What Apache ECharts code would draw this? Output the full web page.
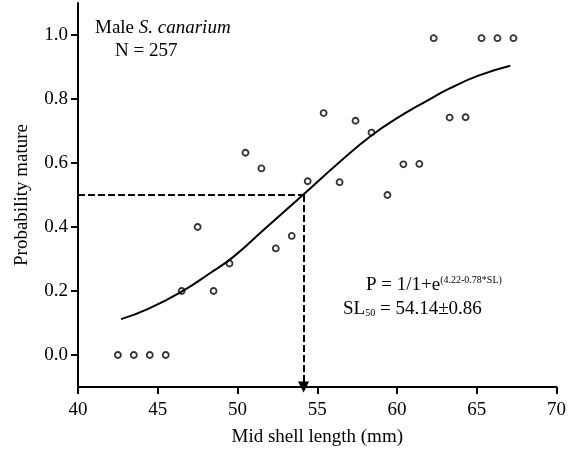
<!DOCTYPE html>
<html>
<head>
<meta charset="utf-8">
<title>Male S. canarium maturity</title>
<script src="https://cdn.jsdelivr.net/npm/echarts@6/dist/echarts.min.js"></script>
<style>
  html, body { margin: 0; padding: 0; background: #fff; }
  #chart { width: 569px; height: 453px; }
</style>
</head>
<body>
<div id="chart"></div>
<script>
// observed proportion mature per size class
const shellLength = [42.5, 43.5, 44.5, 45.5, 46.5, 47.5, 48.5, 49.5, 50.5, 51.5, 52.4, 53.4, 54.4,
  55.4, 56.4, 57.4, 58.4, 59.4, 60.4, 61.4, 62.3, 63.3, 64.3, 65.3, 66.3, 67.3]
const probMature = [0, 0, 0, 0, 0.2, 0.4, 0.2, 0.286, 0.632, 0.583, 0.333, 0.372, 0.543,
  0.756, 0.54, 0.732, 0.695, 0.5, 0.596, 0.597, 0.99, 0.742, 0.743, 0.99, 0.99, 0.99]

// fitted logistic curve
const fitLength = [42.7, 44.4, 46.6, 48.2, 49.7, 51.7, 54.1, 56.6, 58.4, 59.9, 61.9, 63.3, 65.1, 67.1]
const fitProb = [0.112, 0.144, 0.201, 0.253, 0.305, 0.394, 0.5, 0.612, 0.686, 0.737, 0.795, 0.833, 0.873, 0.904]

const sl50 = 54.14
const yTicks = [0, 0.2, 0.4, 0.6, 0.8, 1.0]

const font = 'Liberation Serif'

const chart = echarts.init(document.getElementById('chart'))

chart.setOption({
  backgroundColor: '#fff',
  animation: false,
  grid: {
    left: 78,
    right: 11,
    top: 3,
    bottom: 66
  },
  xAxis: {
    type: 'value',
    min: 40,
    max: 70,
    interval: 5,
    name: 'Mid shell length (mm)',
    nameLocation: 'middle',
    nameGap: 41,
    nameTextStyle: { fontFamily: font, fontSize: 19, color: '#000' },
    axisLine: { onZero: false, lineStyle: { color: '#000', width: 2 } },
    axisTick: { show: true, length: 7, lineStyle: { color: '#000', width: 2 } },
    axisLabel: { margin: 14, fontFamily: font, fontSize: 19, color: '#000' },
    splitLine: { show: false }
  },
  yAxis: {
    type: 'value',
    min: -0.1,
    max: 1.1,
    name: 'Probability mature',
    nameLocation: 'middle',
    nameGap: 46,
    nameTextStyle: { fontFamily: font, fontSize: 19, color: '#000' },
    axisLine: { show: true, onZero: false, lineStyle: { color: '#000', width: 2 } },
    axisTick: { show: true, length: 7, customValues: yTicks, lineStyle: { color: '#000', width: 2 } },
    axisLabel: {
      margin: 10,
      customValues: yTicks,
      fontFamily: font,
      fontSize: 19,
      color: '#000',
      formatter: function(v) { return v.toFixed(1) }
    },
    splitLine: { show: false }
  },
  graphic: [
    {
      type: 'text',
      x: 95,
      y: 28,
      style: {
        text: '{a|Male }{b|S. canarium}',
        verticalAlign: 'middle',
        rich: {
          a: { fontFamily: font, fontSize: 19, fill: '#000' },
          b: { fontFamily: font, fontSize: 19, fontStyle: 'italic', fill: '#000' }
        }
      }
    },
    {
      type: 'text',
      x: 115,
      y: 51,
      style: { text: 'N = 257', fontFamily: font, fontSize: 19, fill: '#000', verticalAlign: 'middle' }
    },
    {
      type: 'text',
      x: 366,
      y: 285,
      style: {
        text: '{a|P = 1/1+e}{sup|(4.22-0.78*SL)}',
        verticalAlign: 'middle',
        rich: {
          a: { fontFamily: font, fontSize: 19, fill: '#000' },
          sup: { fontFamily: font, fontSize: 10, fill: '#000', verticalAlign: 'top' }
        }
      }
    },
    {
      type: 'text',
      x: 343,
      y: 309,
      style: {
        text: '{a|SL}{sub|50}{a| = 54.14±0.86}',
        verticalAlign: 'middle',
        rich: {
          a: { fontFamily: font, fontSize: 19, fill: '#000' },
          sub: { fontFamily: font, fontSize: 10, fill: '#000', verticalAlign: 'bottom' }
        }
      }
    }
  ],
  series: [
    {
      name: 'fit',
      type: 'line',
      smooth: true,
      showSymbol: false,
      silent: true,
      data: fitLength.map((x, i) => [x, fitProb[i]]),
      lineStyle: { color: '#000', width: 2 },
      markLine: {
        silent: true,
        animation: false,
        label: { show: false },
        lineStyle: { color: '#000', width: 2, type: [7, 3] },
        data: [
          [
            { coord: [40, 0.5], symbol: 'none' },
            { coord: [sl50, 0.5], symbol: 'none' }
          ],
          [
            { coord: [sl50, 0.5], symbol: 'none' },
            { coord: [sl50, -0.1], symbol: 'triangle', symbolSize: [11, 11] }
          ]
        ]
      }
    },
    {
      name: 'observed',
      type: 'scatter',
      symbol: 'circle',
      symbolSize: 6,
      data: shellLength.map((x, i) => [x, probMature[i]]),
      itemStyle: { color: 'rgba(0,0,0,0)', borderColor: '#000', borderWidth: 1.8 },
      z: 3
    }
  ]
})
</script>
</body>
</html>
